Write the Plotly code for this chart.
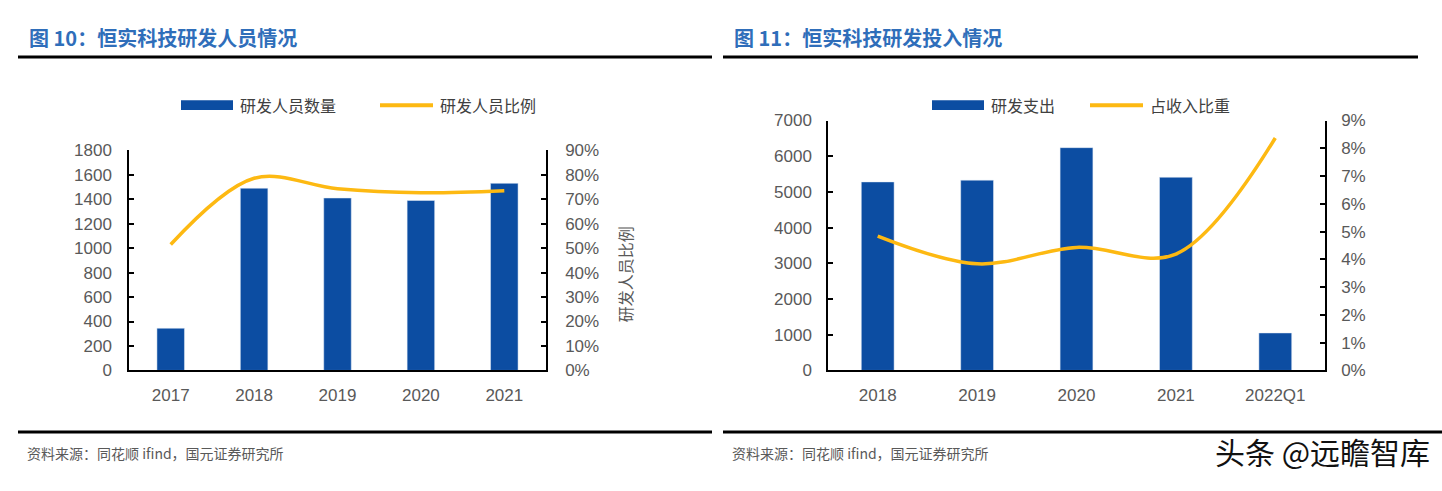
import plotly.graph_objects as go

# ---- data: chart 10 ----
years_a = ["2017", "2018", "2019", "2020", "2021"]
staff_count = [345, 1490, 1410, 1390, 1530]
staff_ratio = [0.515, 0.786, 0.743, 0.727, 0.735]
yticks_a = [0, 200, 400, 600, 800, 1000, 1200, 1400, 1600, 1800]
pticks_a = [0, 0.1, 0.2, 0.3, 0.4, 0.5, 0.6, 0.7, 0.8, 0.9]

# ---- data: chart 11 ----
periods_b = ["2018", "2019", "2020", "2021", "2022Q1"]
rd_spend = [5280, 5330, 6240, 5410, 1050]
rd_share = [0.0484, 0.0384, 0.0443, 0.0419, 0.0837]
yticks_b = [0, 1000, 2000, 3000, 4000, 5000, 6000, 7000]
pticks_b = [0, 0.01, 0.02, 0.03, 0.04, 0.05, 0.06, 0.07, 0.08, 0.09]

title_a = "图 10：恒实科技研发人员情况"
title_b = "图 11：恒实科技研发投入情况"
source_text = "资料来源：同花顺 ifind，国元证券研究所"
watermark = "头条 @远瞻智库"

BLUE = "#0C4DA2"
YELLOW = "#FDB912"
GREY = "#595959"
TITLE_BLUE = "#2F6EBA"
W, H = 1442, 491
TICKFONT = dict(family="Liberation Sans, Arial", size=17, color=GREY)
CJK = "Noto Sans CJK SC"


def px(x):
    return x / W


def py(y):
    return 1 - y / H


fig = go.Figure()

fig.add_trace(go.Bar(x=years_a, y=staff_count, marker_color=BLUE, width=0.33,
                     xaxis="x", yaxis="y", showlegend=False, name="研发人员数量"))
fig.add_trace(go.Scatter(x=years_a, y=staff_ratio, mode="lines",
                         line=dict(color=YELLOW, width=3.5, shape="spline", smoothing=1.0),
                         xaxis="x", yaxis="y2", showlegend=False, name="研发人员比例"))
fig.add_trace(go.Bar(x=periods_b, y=rd_spend, marker_color=BLUE, width=0.33,
                     xaxis="x2", yaxis="y3", showlegend=False, name="研发支出"))
fig.add_trace(go.Scatter(x=periods_b, y=rd_share, mode="lines",
                         line=dict(color=YELLOW, width=3.5, shape="spline", smoothing=1.0),
                         xaxis="x2", yaxis="y4", showlegend=False, name="占收入比重"))

axis_common = dict(showgrid=False, zeroline=False, showline=True, linecolor="black",
                   linewidth=1.5, ticks="inside", ticklen=5, tickcolor="black",
                   tickwidth=1.5, tickfont=TICKFONT, fixedrange=True)

xa_dom = [px(129), px(546)]
xb_dom = [px(828), px(1325)]
ya_dom = [py(376), py(147)]
yb_dom = [py(376), py(116)]

fig.update_layout(
    width=W, height=H, margin=dict(l=0, r=0, t=0, b=0), autosize=False,
    paper_bgcolor="white", plot_bgcolor="white",
    xaxis=dict(domain=xa_dom, anchor="y", showgrid=False, zeroline=False, showline=True,
               linecolor="black", linewidth=1.5, ticks="", tickfont=TICKFONT,
               ticklabelstandoff=8),
    yaxis=dict(domain=ya_dom, anchor="x", range=[0, 1800], tickvals=yticks_a,
               ticklabelstandoff=12, **axis_common),
    yaxis2=dict(overlaying="y", anchor="x", side="right", range=[0, 0.9],
                tickvals=pticks_a, tickformat=".0%", ticklabelstandoff=14, **axis_common),
    xaxis2=dict(domain=xb_dom, anchor="y3", showgrid=False, zeroline=False, showline=True,
                linecolor="black", linewidth=1.5, ticks="", tickfont=TICKFONT,
                ticklabelstandoff=8),
    yaxis3=dict(domain=yb_dom, anchor="x2", range=[0, 7000], tickvals=yticks_b,
                ticklabelstandoff=11, **axis_common),
    yaxis4=dict(overlaying="y3", anchor="x2", side="right", range=[0, 0.09],
                tickvals=pticks_b, tickformat=".0%", ticklabelstandoff=11, **axis_common),
)

shapes = []
annotations = []

# titles and rules
for x0, x1, t in [(18, 712, title_a), (723, 1418, title_b)]:
    annotations.append(dict(text=t, x=px(x0 + 9), y=py(30), xref="paper", yref="paper",
                            xanchor="left", yanchor="middle", showarrow=False,
                            font=dict(family=CJK, size=20, color=TITLE_BLUE, weight="bold")))
    shapes.append(dict(type="line", xref="paper", yref="paper", x0=px(x0), x1=px(x1),
                       y0=py(50), y1=py(50), line=dict(color="black", width=3)))

# footer rules and source text
for x0, x1 in [(18, 712), (723, 1442)]:
    shapes.append(dict(type="line", xref="paper", yref="paper", x0=px(x0), x1=px(x1),
                       y0=py(440), y1=py(440), line=dict(color="black", width=3)))
    annotations.append(dict(text=source_text, x=px(x0 + 7), y=py(462), xref="paper",
                            yref="paper", xanchor="left", yanchor="middle", showarrow=False,
                            font=dict(family=CJK, size=14, color=GREY)))

# legends
legend_items = [
    ("bar", 181, 233, "研发人员数量"),
    ("line", 380, 433, "研发人员比例"),
    ("bar", 932, 984, "研发支出"),
    ("line", 1090, 1143, "占收入比重"),
]
for kind, x0, x1, label in legend_items:
    if kind == "bar":
        shapes.append(dict(type="rect", xref="paper", yref="paper", x0=px(x0), x1=px(x1),
                           y0=py(105), y1=py(95), fillcolor=BLUE, line=dict(width=0)))
    else:
        shapes.append(dict(type="line", xref="paper", yref="paper", x0=px(x0), x1=px(x1),
                           y0=py(100), y1=py(100), line=dict(color=YELLOW, width=4)))
    annotations.append(dict(text=label, x=px(x1 + 5), y=py(100), xref="paper", yref="paper",
                            xanchor="left", yanchor="middle", showarrow=False,
                            font=dict(family=CJK, size=16, color="#404040")))

# secondary axis title for chart 10
annotations.append(dict(text="研发人员比例", x=px(625), y=py(276), xref="paper", yref="paper",
                        xanchor="center", yanchor="middle", showarrow=False, textangle=-90,
                        font=dict(family=CJK, size=16, color=GREY)))

# watermark
annotations.append(dict(text=watermark, x=px(1432), y=py(460), xref="paper", yref="paper",
                        xanchor="right", yanchor="middle", showarrow=False,
                        font=dict(family=CJK, size=30, color="#111111",
                                  shadow="1px 1px 1px white")))

fig.update_layout(shapes=shapes, annotations=annotations)

page_fix = (
    "var gd=document.getElementById('{plot_id}');"
    "document.documentElement.style.margin='0';document.documentElement.style.padding='0';"
    "document.documentElement.style.overflow='hidden';"
    "document.body.style.margin='0';document.body.style.padding='0';"
    "document.body.style.overflow='hidden';"
    "gd.style.position='fixed';gd.style.top='0px';gd.style.left='0px';"
)
fig.write_html("out.html", config={"displayModeBar": False, "responsive": False},
               post_script=page_fix)
